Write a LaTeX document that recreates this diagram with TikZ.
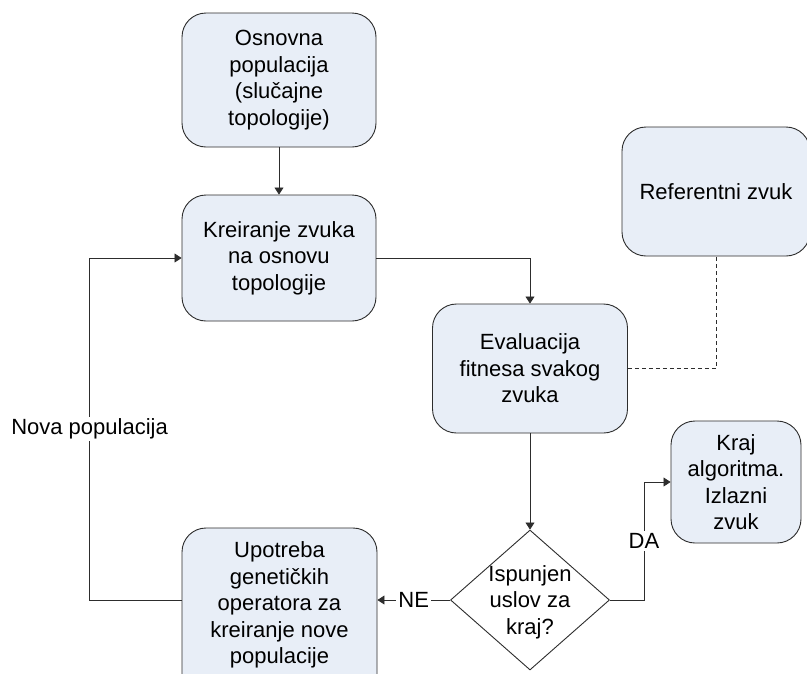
\documentclass[tikz,border=0pt]{standalone}
\usepackage{fontspec}
\setmainfont{Liberation Sans}
\usetikzlibrary{shapes.geometric,arrows.meta}
\definecolor{boxblue}{RGB}{232,238,247}
\definecolor{edgegray}{RGB}{45,45,45}

\begin{document}
\begin{tikzpicture}[x=1pt,y=-1pt,
        every node/.style = {font=\fontsize{22}{26.5}\selectfont, align=center},
        box/.style = {draw=edgegray, line width=0.9pt, fill=boxblue,
            rounded corners=24pt, inner sep=0pt},
        decision/.style = {shape=diamond, draw=edgegray, line width=0.9pt,
            fill=white, inner sep=0pt},
        wire/.style = {draw=edgegray, line width=0.8pt,
            -{Triangle[length=7pt,width=9pt]}},
        tag/.style = {fill=white, inner sep=2pt}]
    \clip (0,0) rectangle (807,673);
    \fill[white] (0,0) rectangle (807,673);
    \node[box, minimum width=194pt, minimum height=134pt] (osnovna) at (279,80)
        {Osnovna\\populacija\\(slučajne\\topologije)};
    \node[box, minimum width=194pt, minimum height=126pt] (kreiranje) at (279,258)
        {Kreiranje zvuka\\na osnovu\\topologije};
    \node[box, minimum width=195pt, minimum height=129pt] (evaluacija) at (530,368.5)
        {Evaluacija\\fitnesa svakog\\zvuka};
    \node[box, minimum width=188pt, minimum height=129pt] (referentni) at (716,191.5)
        {Referentni zvuk};
    \node[decision, minimum width=159pt, minimum height=140pt] (uslov) at (530,600) {};
    \node (uslovtxt) at (530,602) {Ispunjen\\uslov za\\kraj?};
    \node[box, minimum width=130pt, minimum height=122pt] (kraj) at (736,482)
        {Kraj\\algoritma.\\Izlazni\\zvuk};
    % box runs past the lower edge of the page
    \node[box, minimum width=195pt, minimum height=176pt] (upotreba) at (279.5,616) {};
    \node (upotrebatxt) at (279.5,605)
        {Upotreba\\genetičkih\\operatora za\\kreiranje nove\\populacije};

    \draw[wire] (osnovna) -- (kreiranje);
    \draw[wire] (kreiranje.east) -| (evaluacija.north);
    \draw[wire] (evaluacija) -- (uslov);
    \draw[draw=edgegray, line width=0.8pt, dash pattern=on 4pt off 3pt]
        (evaluacija.east) -| (referentni.south);
    \draw[wire] (uslov.west) -- node[tag] (ne) {NE} (upotreba.east |- uslov.west);
    \draw[wire] (uslov.east) -- ++(34,0) |- node[tag, pos=0.25] (da) {DA} (kraj.west);
    \draw[wire] (upotreba.west |- uslov.west) -- ++(-92,0)
        |- node[tag, pos=0.25] (nova) {Nova populacija} (kreiranje.west);
\end{tikzpicture}
\end{document}
